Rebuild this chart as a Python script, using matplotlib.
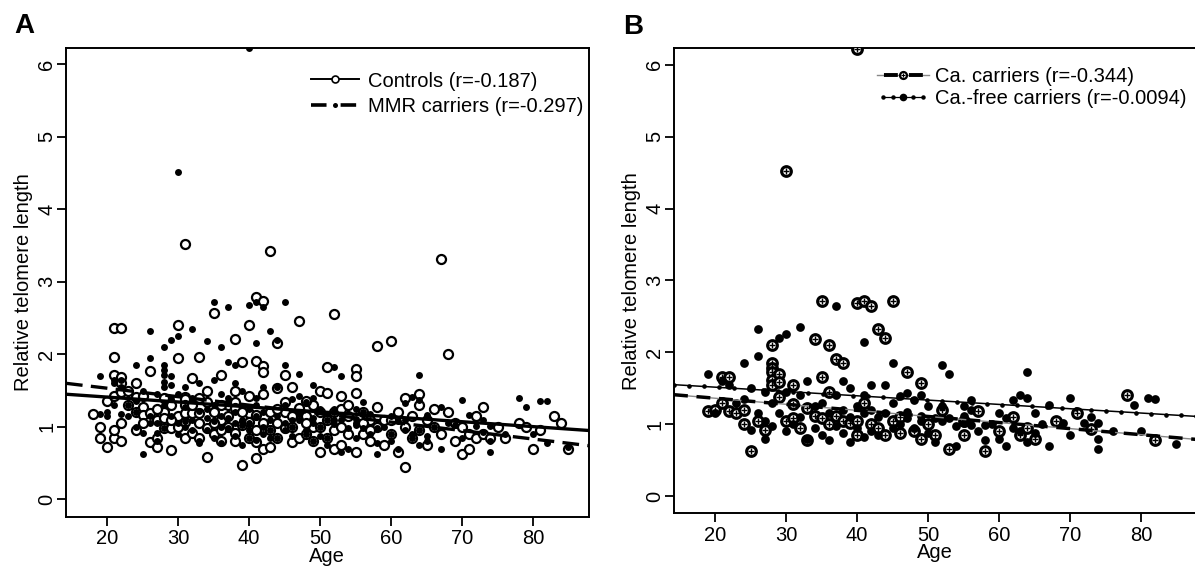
import numpy as np
import matplotlib
matplotlib.use('Agg')
import matplotlib.pyplot as plt
from matplotlib.lines import Line2D
from matplotlib.legend_handler import HandlerLine2D, HandlerTuple

plt.rcParams['font.family'] = ['Liberation Sans', 'DejaVu Sans']

# ---------------- data ----------------
ctrl_pts = [(18,1.18),(19,1.0),(19,0.85),(20,0.72),(20,1.35),(21,2.36),(22,2.36),(21,1.96),(21,1.71),(22,1.69),
 (22,1.6),(21,1.43),(22,1.48),(21,0.85),(21,0.95),(22,1.05),(22,0.8),(23,1.30),(23,1.5),(24,1.6),(24,1.41),
 (24,1.2),(24,0.95),(25,1.42),(25,1.27),(25,1.16),(25,1.05),(26,1.77),(26,1.19),(26,0.79),(27,0.84),(27,0.72),
 (27,1.1),(28,1.2),(28,1.12),(28,0.99),(28,1.4),(29,0.99),(29,0.68),(29,1.3),(30,2.4),(30,1.95),(30,1.15),
 (30,1.0),(31,3.52),(31,1.41),(31,1.39),(31,1.30),(31,1.19),(31,1.06),(31,0.84),(32,1.67),(32,1.19),(32,0.91),
 (33,1.96),(33,1.19),(33,1.05),(34,1.50),(34,1.34),(34,0.98),(34,0.58),(35,2.57),(35,1.2),(35,0.9),(36,1.71),
 (36,1.1),(36,0.8),(37,1.3),(37,1.0),(38,2.21),(38,1.50),(38,1.34),(38,1.26),(38,0.91),(38,0.81),(39,1.89),
 (39,1.02),(39,0.48),(40,2.41),(40,1.43),(40,1.19),(40,1.06),(41,2.79),(42,2.73),(41,1.91),(41,1.16),(41,0.95),
 (41,0.79),(41,0.57),(42,1.84),(42,1.75),(42,1.45),(42,0.70),(43,3.42),(43,0.72),(43,1.2),(44,2.15),(44,1.54),
 (44,1.05),(45,1.71),(45,1.34),(45,0.98),(46,1.55),(46,0.79),(46,1.0),(47,2.46),(47,1.26),(47,0.85),(48,1.15),
 (48,0.9),(49,1.3),(49,1.0),(50,1.5),(50,1.2),(50,0.65),(51,1.83),(51,1.47),(51,1.1),(52,2.55),(52,0.95),
 (52,0.7),(53,1.43),(53,1.0),(53,0.75),(54,1.15),(55,1.80),(55,1.70),(55,1.46),(55,0.65),(56,1.2),(56,0.9),
 (57,1.1),(57,0.8),(58,2.12),(58,1.27),(58,1.0),(59,1.1),(59,0.75),(60,2.19),(60,1.1),(60,0.9),(61,1.2),
 (61,0.65),(62,1.4),(62,1.0),(62,0.45),(63,1.15),(63,0.85),(64,1.45),(64,1.3),(64,0.95),(65,1.1),(65,0.75),
 (66,1.25),(66,1.0),(67,3.32),(67,0.9),(68,2.0),(68,1.2),(69,1.05),(69,0.8),(70,1.0),(70,0.62),(71,0.9),
 (71,0.7),(72,1.15),(72,0.85),(73,1.27),(73,0.9),(74,0.85),(75,1.0),(76,0.85),(78,1.05),(79,1.0),(80,0.7),
 (81,0.95),(83,1.15),(84,1.05),(85,0.7),(32,1.3),(33,1.4),(35,1.05),(36,1.3),(37,1.15),(39,1.2),(40,0.85),
 (42,1.05),(43,0.95),(44,0.85),(45,1.2),(46,1.15),(48,1.05),(49,0.8),(50,1.0),(51,0.85),(52,1.2),(53,1.25),
 (54,0.9),(56,1.05),(57,0.95),(54,1.3),(48,1.35),(44,1.25),(36,0.95),(33,0.85),(29,1.1),(27,1.25)]
ctrl_age = [p[0] for p in ctrl_pts]
ctrl_rtl = [p[1] for p in ctrl_pts]

ca_pts = [(19,1.18),(20,1.2),(21,1.65),(22,1.65),(21,1.3),(22,1.18),(23,1.15),(24,1.2),(24,1.0),(25,0.62),
 (26,1.05),(27,0.92),(28,2.1),(28,1.85),(28,1.78),(28,1.72),(28,1.62),(28,1.55),(29,1.7),(29,1.58),(29,1.38),
 (30,4.52),(30,1.05),(31,1.55),(31,1.28),(31,1.08),(32,0.95),(33,0.78),(33,1.22),(34,2.18),(34,1.12),(35,2.72),
 (35,1.65),(35,1.08),(36,2.1),(36,1.45),(36,1.0),(37,1.9),(37,1.12),(38,1.85),(38,1.05),(39,1.02),(40,6.22),
 (40,2.68),(40,1.05),(40,0.85),(41,2.72),(41,1.3),(42,2.65),(42,1.0),(43,2.32),(43,0.95),(44,2.2),(44,0.85),
 (45,2.72),(45,1.05),(46,1.1),(46,0.88),(47,1.73),(48,0.9),(49,1.57),(49,0.8),(50,1.0),(51,0.85),(52,1.2),
 (53,0.65),(55,0.85),(55,1.05),(57,1.18),(58,0.62),(60,0.9),(62,1.1),(63,0.85),(64,0.95),(65,0.8),(68,1.05),
 (71,1.16),(73,0.93),(78,1.4),(82,0.78)]
ca_age = [p[0] for p in ca_pts]
ca_rtl = [p[1] for p in ca_pts]

free_pts = [(19,1.7),(20,1.15),(21,1.6),(22,1.55),(23,1.3),(24,1.85),(24,1.35),(25,1.5),(25,0.92),(26,2.32),
 (26,1.95),(26,1.15),(27,1.45),(27,1.05),(27,0.8),(28,1.3),(28,0.98),(29,2.2),(29,1.15),(30,2.25),(30,1.45),
 (30,0.9),(31,1.0),(32,2.35),(32,1.4),(32,1.1),(33,1.6),(33,0.8),(34,1.25),(34,0.95),(35,1.3),(35,0.85),
 (36,1.15),(36,0.78),(37,2.65),(37,1.4),(37,0.98),(38,1.6),(38,1.2),(38,0.88),(39,1.5),(39,1.1),(39,0.75),
 (40,1.25),(40,0.95),(41,2.15),(41,1.4),(41,1.15),(41,0.82),(42,1.55),(42,1.2),(42,0.9),(43,1.1),(43,0.85),
 (44,1.55),(44,1.15),(45,1.85),(45,1.3),(45,0.95),(46,1.39),(46,1.0),(47,1.43),(47,1.17),(47,1.09),(48,1.34),
 (48,0.95),(49,1.4),(49,1.12),(49,1.05),(50,1.25),(50,0.88),(51,1.09),(51,0.75),(52,1.82),(52,1.25),(52,1.09),
 (52,1.04),(53,1.70),(53,1.09),(54,0.98),(54,0.7),(55,1.25),(55,1.11),(55,1.02),(56,1.34),(56,1.2),(56,0.99),
 (57,0.9),(58,0.99),(58,0.78),(59,1.0),(60,1.15),(60,0.8),(61,1.08),(61,0.7),(62,1.33),(62,0.95),(63,1.41),
 (63,0.9),(64,1.72),(64,1.37),(64,0.75),(65,1.16),(65,0.88),(66,1.0),(67,1.27),(67,0.7),(69,1.02),(70,1.37),
 (70,0.85),(72,1.01),(73,1.1),(74,1.01),(74,0.8),(74,0.65),(76,0.9),(79,1.27),(80,0.9),(81,1.36),(82,1.35),
 (85,0.72)]
free_age = [p[0] for p in free_pts]
free_rtl = [p[1] for p in free_pts]

# regression lines (intercept, slope)
ctrl_fit = (1.546, -0.00679)
mmr_fit = (1.766, -0.01168)
ca_fit = (1.53, -0.00845)
free_fit = (1.635, -0.0060)

ctrl_label = 'Controls (r=-0.187)'
mmr_label = 'MMR carriers (r=-0.297)'
ca_label = 'Ca. carriers (r=-0.344)'
free_label = 'Ca.-free carriers (r=-0.0094)'

x_ticks = [20, 30, 40, 50, 60, 70, 80]
y_ticks = [0, 1, 2, 3, 4, 5, 6]
xlim = (14.2, 87.85)
ylim = (-0.24, 6.23)

# ---------------- figure ----------------
W, H = 1195, 568
fig = plt.figure(figsize=(W/100, H/100), dpi=100)
axA = fig.add_axes([66/W, 1-516.7/H, 522.7/W, (516.7-47.7)/H])
axB = fig.add_axes([674/W, 1-513.3/H, 522.7/W, (513.3-48.3)/H])

FS = 14.5

def style(ax):
    ax.set_xlim(*xlim); ax.set_ylim(*ylim)
    ax.set_xticks(x_ticks); ax.set_yticks(y_ticks)
    ax.tick_params(axis='both', direction='out', length=6.5, width=1.3, labelsize=FS)
    ax.tick_params(axis='x', pad=2.5)
    ax.tick_params(axis='y', pad=0.5)
    for lab in ax.get_yticklabels():
        lab.set_rotation(90); lab.set_va('center')
    for s in ax.spines.values():
        s.set_linewidth(1.4)
    ax.set_xlabel('Age', fontsize=FS, labelpad=-1)
    ax.set_ylabel('Relative telomere length', fontsize=FS, labelpad=3)

mmr_age = ca_age + free_age
mmr_rtl = ca_rtl + free_rtl

# Panel A
axA.plot(ctrl_age, ctrl_rtl, ls='none', marker='o', ms=6.5, mfc='white', mec='black', mew=1.6, zorder=2)
axA.plot(mmr_age, mmr_rtl, ls='none', marker='o', ms=5.0, mfc='black', mec='black', mew=0, zorder=3)
xx = np.array(xlim)
axA.plot(xx, ctrl_fit[0] + ctrl_fit[1]*xx, color='black', lw=2.4, zorder=4)
axA.plot(xx, mmr_fit[0] + mmr_fit[1]*xx, color='black', lw=2.4, ls=(0, (5, 2.5)), zorder=4)
style(axA)

hA1 = Line2D([], [], color='black', lw=1.4, marker='o', ms=5, mfc='white', mec='black', mew=1.2)
hA2 = Line2D([], [], color='black', lw=2.6, ls=(0, (4.3, 3.9)), marker='o', ms=3.6, mfc='black', mec='black', mew=0)
axA.legend([hA1, hA2], [ctrl_label, mmr_label], loc='upper right', bbox_to_anchor=(1.012, 0.975),
           frameon=False, fontsize=FS, handlelength=2.4, handletextpad=0.4, labelspacing=0.3,
           borderaxespad=0.2)

# Panel B
axB.plot(ca_age, ca_rtl, ls='none', marker='o', ms=7, mfc='white', mec='black', mew=2.2, zorder=3)
axB.plot(ca_age, ca_rtl, ls='none', marker='+', ms=4.5, mec='black', mew=1.0, zorder=3)
axB.plot(free_age, free_rtl, ls='none', marker='o', ms=6.3, mfc='black', mec='black', mew=0, zorder=3)
xb = np.array(xlim)
axB.plot(xb, ca_fit[0] + ca_fit[1]*xb, color='#888888', lw=1.0, zorder=4)
axB.plot(xb, ca_fit[0] + ca_fit[1]*xb, color='black', lw=2.5, ls=(0, (4, 2.5)), zorder=4)
xd = np.arange(xlim[0], xlim[1], 2.1)
axB.plot(xd, free_fit[0] + free_fit[1]*xd, color='black', lw=1.1, marker='o', ms=2.3, zorder=4)
style(axB)

hB1a = Line2D([], [], color='#888888', lw=1.0)
hB1b = Line2D([], [], color='black', lw=2.8, ls=(4.64, (3.57, 2.86)))
hB1c = Line2D([], [], ls='none', marker='o', ms=5, mfc='white', mec='black', mew=1.6)
hB1d = Line2D([], [], ls='none', marker='+', ms=3.2, mec='black', mew=0.8)
hB2a = Line2D([], [], color='black', lw=0.9, marker='o', ms=2.2, mfc='black', mec='black')
hB2b = Line2D([], [], ls='none', marker='o', ms=5.5, mfc='black', mec='black', mew=0)
fig.legend([(hB1a, hB1b, hB1c, hB1d), (hB2a, hB2b)], [ca_label, free_label],
           loc='upper left', bbox_to_anchor=(869/W, 1-59/H), frameon=False, fontsize=FS,
           handlelength=2.6, handletextpad=0.3, labelspacing=0.15, borderaxespad=0,
           handler_map={tuple: HandlerTuple(ndivide=1), hB2a: HandlerLine2D(numpoints=5),
                        hB1c: HandlerLine2D(numpoints=1), hB1d: HandlerLine2D(numpoints=1),
                        hB2b: HandlerLine2D(numpoints=1)})

fig.text(14/W, 1-33/H, 'A', fontsize=20, fontweight='bold', ha='left', va='baseline')
fig.text(623/W, 1-34/H, 'B', fontsize=20, fontweight='bold', ha='left', va='baseline')

fig.savefig('out.png', dpi=100)
